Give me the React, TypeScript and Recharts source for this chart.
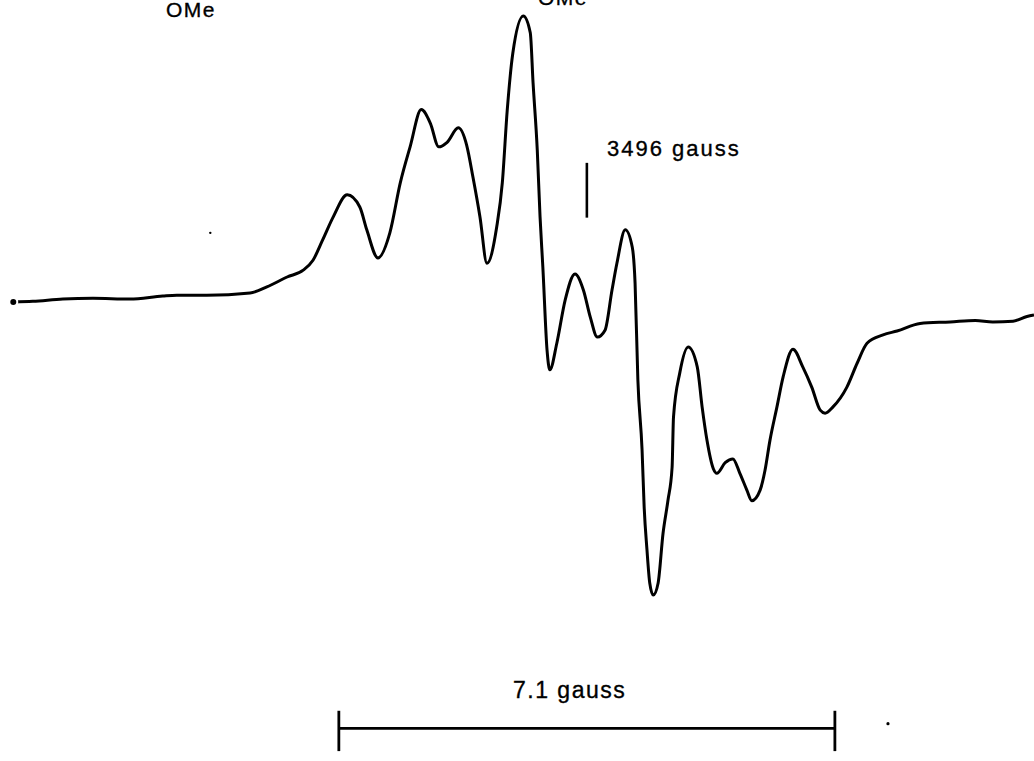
import { LineChart, Line, XAxis, YAxis, ReferenceLine, ReferenceDot } from 'recharts';

// ESR spectrum, first-derivative trace. Field in gauss, signal in arbitrary units.
const field = [
  3487.79, 3488.07, 3488.5, 3488.93, 3489.46, 3489.93, 3490.13, 3490.56, 3491.18, 3491.42,
  3491.71, 3491.94, 3492.08, 3492.22, 3492.37, 3492.57, 3492.75, 3492.85, 3493.01, 3493.18,
  3493.33, 3493.47, 3493.63, 3493.76, 3493.88, 3494.0, 3494.16, 3494.28, 3494.37, 3494.47,
  3494.57, 3494.71, 3494.79, 3494.86, 3494.94, 3495.09, 3495.19, 3495.23, 3495.29, 3495.33,
  3495.37, 3495.43, 3495.47, 3495.57, 3495.69, 3495.83, 3495.95, 3496.05, 3496.15, 3496.26,
  3496.36, 3496.43, 3496.55, 3496.65, 3496.69, 3496.73, 3496.79, 3496.82, 3496.86, 3496.9,
  3496.95, 3497.02, 3497.09, 3497.16, 3497.22, 3497.24, 3497.33, 3497.45, 3497.58, 3497.65,
  3497.72, 3497.81, 3497.86, 3497.98, 3498.09, 3498.19, 3498.29, 3498.36, 3498.48, 3498.55,
  3498.62, 3498.72, 3498.81, 3498.95, 3499.09, 3499.22, 3499.34, 3499.41, 3499.52, 3499.72,
  3499.87, 3500.01, 3500.24, 3500.44, 3500.77, 3501.2, 3501.56, 3501.81, 3502.1, 3502.3,
  3502.4,
];

const signal = [
  0.03, 0.04, 0.07, 0.08, 0.07, 0.11, 0.12, 0.12, 0.15, 0.23,
  0.36, 0.45, 0.58, 0.85, 1.15, 1.44, 1.28, 0.98, 0.61, 0.94,
  1.6, 2.07, 2.56, 2.38, 2.07, 2.13, 2.32, 2.09, 1.67, 1.15,
  0.54, 1.02, 1.6, 2.55, 3.3, 3.79, 3.57, 2.91, 2.03, 1.15,
  0.49, -0.6, -0.86, -0.51, 0.06, 0.4, 0.19, -0.17, -0.43, -0.34,
  0.19, 0.54, 0.98, 0.75, 0.28, -0.99, -1.91, -2.66, -3.22, -3.66,
  -3.82, -3.66, -3.01, -2.58, -2.14, -1.48, -0.9, -0.56, -0.82, -1.35,
  -1.79, -2.16, -2.22, -2.08, -2.03, -2.22, -2.44, -2.58, -2.44, -2.18,
  -1.79, -1.35, -0.95, -0.59, -0.82, -1.09, -1.39, -1.43, -1.35, -1.09,
  -0.77, -0.51, -0.4, -0.35, -0.25, -0.23, -0.21, -0.23, -0.22, -0.16,
  -0.14,
];

const centerField = 3496;
const scaleBarFrom = 3492.45;
const scaleBarTo = 3499.55; // 7.1 gauss
const scaleBarLevel = -5.57;

const data = field.map((f, i) => ({ field: f, signal: signal[i] }));

const FONT = '"Liberation Sans", Arial, Helvetica, sans-serif';

export default function App() {
  return (
    <div style={{ position: 'absolute', left: 0, top: 0, width: 1034, height: 761, background: '#fff' }}>
      <LineChart width={1034} height={761} data={data} margin={{ top: 0, right: 0, bottom: 0, left: 0 }}>
        <XAxis dataKey="field" type="number" domain={[3487.6, 3502.4]} hide allowDataOverflow />
        <YAxis type="number" domain={[-6, 4]} hide allowDataOverflow />
        <Line
          dataKey="signal"
          type="monotone"
          stroke="#000"
          strokeWidth={3}
          strokeLinejoin="round"
          dot={false}
          isAnimationActive={false}
        />
        {/* 3496 gauss marker */}
        <ReferenceLine
          segment={[{ x: centerField, y: 1.86 }, { x: centerField, y: 1.14 }]}
          stroke="#000"
          strokeWidth={2.6}
        />
        {/* 7.1 gauss scale bar */}
        <ReferenceLine
          segment={[{ x: scaleBarFrom, y: scaleBarLevel }, { x: scaleBarTo, y: scaleBarLevel }]}
          stroke="#000"
          strokeWidth={2.8}
        />
        <ReferenceLine
          segment={[{ x: scaleBarFrom, y: -5.34 }, { x: scaleBarFrom, y: -5.87 }]}
          stroke="#000"
          strokeWidth={2.8}
        />
        <ReferenceLine
          segment={[{ x: scaleBarTo, y: -5.34 }, { x: scaleBarTo, y: -5.87 }]}
          stroke="#000"
          strokeWidth={2.8}
        />
        <ReferenceDot x={3490.61} y={0.94} r={1.2} fill="#000" stroke="none" />
        <ReferenceDot x={3500.31} y={-5.51} r={1.6} fill="#000" stroke="none" />
      </LineChart>
      <svg
        width={1034}
        height={761}
        style={{ position: 'absolute', left: 0, top: 0, pointerEvents: 'none', overflow: 'visible' }}
      >
        <g fontFamily={FONT} fill="#000" stroke="#000" strokeWidth={0.35}>
          <text x={166} y={17} fontSize={21} letterSpacing={1.5}>OMe</text>
          <text x={538} y={5} fontSize={21} letterSpacing={1.5}>OMe</text>
          <text x={607} y={156} fontSize={22} letterSpacing={2}>3496 gauss</text>
          <text x={513} y={698} fontSize={23} letterSpacing={1.5}>7.1 gauss</text>
        </g>
      </svg>
    </div>
  );
}
